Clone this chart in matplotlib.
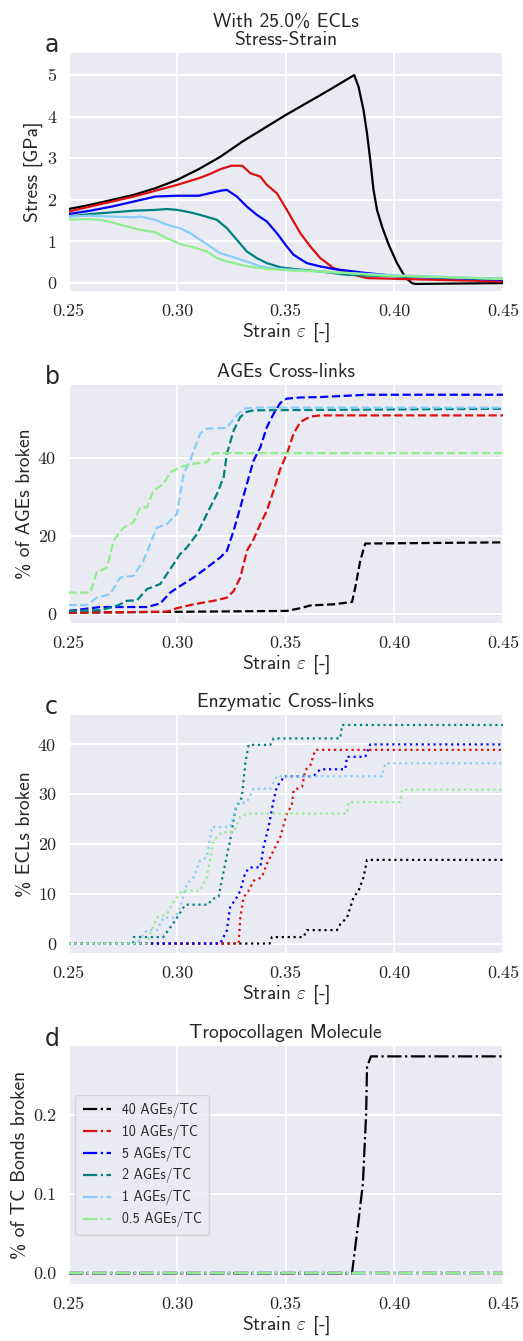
import matplotlib
matplotlib.use("Agg")
import matplotlib.pyplot as plt
import seaborn as sns

sns.set_style("darkgrid")
plt.rcParams["font.family"] = ["cmss10", "DejaVu Sans"]
plt.rcParams["mathtext.fontset"] = "cm"
plt.rcParams["axes.unicode_minus"] = False

# ---------------------------------------------------------------- data
labels = ["40 AGEs/TC", "10 AGEs/TC", "5 AGEs/TC", "2 AGEs/TC", "1 AGEs/TC", "0.5 AGEs/TC"]
colors = ["black", "#dd1010", "blue", "teal", "lightskyblue", "lightgreen"]

xticks = [0.25, 0.30, 0.35, 0.40, 0.45]
xtick_labels = ["0.25", "0.30", "0.35", "0.40", "0.45"]

# (a) stress-strain
a_x_40 = [0.25, 0.26, 0.27, 0.28, 0.29, 0.30, 0.31, 0.32, 0.33, 0.34, 0.35, 0.36, 0.37, 0.3815,
          0.3835, 0.3858, 0.3874, 0.3889, 0.3904, 0.3920, 0.3943, 0.3974, 0.4012, 0.4050, 0.4081, 0.4096, 0.45]
a_y_40 = [1.78, 1.88, 2.0, 2.12, 2.28, 2.48, 2.74, 3.04, 3.4, 3.72, 4.04, 4.34, 4.64, 5.0,
          4.72, 4.16, 3.6, 2.96, 2.24, 1.76, 1.36, 0.92, 0.48, 0.14, 0.0, -0.02, 0.0]
a_x_10 = [0.25, 0.26, 0.27, 0.28, 0.29, 0.30, 0.31, 0.315, 0.32, 0.325, 0.33, 0.3337, 0.3383, 0.3413,
          0.3459, 0.3505, 0.3567, 0.3613, 0.3659, 0.3720, 0.3797, 0.3874, 0.4027, 0.45]
a_y_10 = [1.72, 1.84, 1.96, 2.08, 2.22, 2.36, 2.52, 2.62, 2.74, 2.82, 2.82, 2.64, 2.56, 2.36,
          2.16, 1.76, 1.2, 0.88, 0.6, 0.36, 0.22, 0.12, 0.1, 0.04]
a_x_5 = [0.25, 0.26, 0.27, 0.28, 0.29, 0.30, 0.31, 0.32, 0.3229, 0.3275, 0.3321, 0.3367, 0.3413,
         0.3459, 0.3505, 0.3536, 0.3597, 0.3659, 0.3720, 0.3782, 0.3874, 0.4027, 0.45]
a_y_5 = [1.66, 1.74, 1.84, 1.96, 2.08, 2.10, 2.10, 2.22, 2.24, 2.08, 1.84, 1.64, 1.48,
         1.2, 0.88, 0.68, 0.48, 0.4, 0.34, 0.30, 0.24, 0.16, 0.08]
a_x_2 = [0.25, 0.26, 0.27, 0.28, 0.29, 0.2953, 0.30, 0.3060, 0.3106, 0.3183, 0.3229, 0.3275, 0.3321,
         0.3367, 0.3413, 0.3475, 0.3536, 0.3659, 0.3782, 0.3874, 0.45]
a_y_2 = [1.6, 1.66, 1.7, 1.74, 1.76, 1.78, 1.76, 1.7, 1.64, 1.52, 1.32, 1.04, 0.76,
         0.6, 0.48, 0.38, 0.34, 0.28, 0.2, 0.18, 0.1]
a_x_1 = [0.25, 0.26, 0.27, 0.28, 0.283, 0.29, 0.2953, 0.3014, 0.3060, 0.3106, 0.3152, 0.3198, 0.3260,
         0.3321, 0.3383, 0.3444, 0.3536, 0.3659, 0.3797, 0.3950, 0.45]
a_y_1 = [1.6, 1.62, 1.6, 1.58, 1.6, 1.52, 1.4, 1.32, 1.2, 1.04, 0.88, 0.72, 0.62,
         0.52, 0.4, 0.35, 0.32, 0.28, 0.24, 0.2, 0.1]
a_x_05 = [0.25, 0.2584, 0.2646, 0.27, 0.2769, 0.283, 0.29, 0.2953, 0.3014, 0.3076, 0.3137, 0.3183,
          0.3229, 0.3291, 0.3352, 0.3413, 0.3536, 0.3659, 0.3782, 0.3950, 0.45]
a_y_05 = [1.52, 1.54, 1.52, 1.46, 1.36, 1.28, 1.22, 1.08, 0.94, 0.86, 0.76, 0.6,
          0.52, 0.44, 0.38, 0.34, 0.30, 0.28, 0.24, 0.18, 0.1]

# (b) % of AGEs broken
b_x_40 = [0.25, 0.3505, 0.3567, 0.3613, 0.3720, 0.3805, 0.3820, 0.3843, 0.3866, 0.45]
b_y_40 = [0.25, 0.7, 1.4, 2.1, 2.4, 3.0, 6.7, 13.6, 18.0, 18.3]
b_x_10 = [0.25, 0.2953, 0.2999, 0.3076, 0.3168, 0.3229, 0.3260, 0.3291, 0.3321, 0.3352, 0.3383,
          0.3413, 0.3444, 0.3475, 0.3505, 0.3536, 0.3567, 0.3613, 0.3659, 0.45]
b_y_10 = [0.25, 0.5, 1.4, 2.4, 3.3, 4.1, 5.8, 9.3, 16.1, 19.1, 23.0,
          26.4, 31.6, 37.2, 41.0, 46.2, 49.2, 50.6, 50.9, 50.9]
b_x_5 = [0.25, 0.2646, 0.2861, 0.2922, 0.2968, 0.3014, 0.3076, 0.3137, 0.3198, 0.3229, 0.3260, 0.3291,
         0.3321, 0.3352, 0.3383, 0.3413, 0.3444, 0.3475, 0.3505, 0.3567, 0.3659, 0.3766, 0.3874, 0.45]
b_y_5 = [0.7, 1.7, 1.7, 2.6, 5.4, 7.1, 9.3, 11.8, 14.4, 16.1, 21.3, 27.3,
         33.3, 39.3, 42.7, 47.9, 51.3, 54.1, 55.2, 55.5, 55.6, 55.9, 56.2, 56.2]
b_x_2 = [0.25, 0.2646, 0.2723, 0.2769, 0.2815, 0.2861, 0.2922, 0.2968, 0.3014, 0.3045, 0.3091,
         0.3137, 0.3183, 0.3214, 0.3229, 0.3260, 0.3291, 0.3321, 0.3352, 0.45]
b_y_2 = [0.7, 0.9, 2.0, 3.3, 3.4, 6.3, 7.6, 11.4, 15.3, 17.0, 20.4,
         25.6, 30.7, 35.0, 41.0, 47.0, 50.5, 51.8, 52.2, 52.6]
b_x_1 = [0.25, 0.2584, 0.2630, 0.2692, 0.2738, 0.2799, 0.2845, 0.2907, 0.2953, 0.2999, 0.3030,
         0.3060, 0.3106, 0.3137, 0.3229, 0.3260, 0.3306, 0.3352, 0.45]
b_y_1 = [2.2, 2.2, 4.1, 5.0, 9.3, 9.7, 13.6, 22.1, 23.0, 25.6, 35.9,
         39.3, 46.2, 47.5, 47.7, 50.0, 52.6, 52.9, 52.9]
b_x_05 = [0.25, 0.2600, 0.2630, 0.2677, 0.2707, 0.2753, 0.2799, 0.2830, 0.2861, 0.2891, 0.2937,
          0.2968, 0.3014, 0.3076, 0.3137, 0.3168, 0.45]
b_y_05 = [5.4, 5.4, 10.6, 11.8, 18.7, 22.1, 23.4, 27.3, 27.3, 31.6, 33.3,
          36.3, 37.6, 38.5, 38.9, 41.2, 41.2]

# (c) % of ECLs broken
c_x_40 = [0.25, 0.3426, 0.3436, 0.3582, 0.3597, 0.3736, 0.3751, 0.3782, 0.3812, 0.3835, 0.3858, 0.3874, 0.45]
c_y_40 = [0, 0, 1.3, 1.3, 2.7, 2.7, 3.9, 5.2, 9.3, 10.6, 13.3, 16.8, 16.8]
c_x_10 = [0.25, 0.3283, 0.3291, 0.3306, 0.3329, 0.3352, 0.3390, 0.3413, 0.3444, 0.3475, 0.3505,
          0.3528, 0.3536, 0.3575, 0.3590, 0.3613, 0.3636, 0.45]
c_y_10 = [0, 0, 5.2, 9.3, 10.6, 12.6, 13.3, 16.0, 18.7, 21.4, 26.1,
          27.8, 30.8, 31.5, 34.8, 35.8, 38.9, 38.9]
c_x_5 = [0.25, 0.3198, 0.3229, 0.3244, 0.3275, 0.3291, 0.3314, 0.3337, 0.3383, 0.3398, 0.3421,
         0.3444, 0.3459, 0.3482, 0.3490, 0.3628, 0.3659, 0.3774, 0.3782, 0.3866, 0.3889, 0.45]
c_y_5 = [0, 0, 2.6, 7.3, 9.3, 10.6, 14.3, 15.3, 15.3, 19.4, 23.4,
         28.8, 31.5, 32.8, 33.6, 33.6, 35.0, 35.0, 37.5, 37.5, 40.0, 40.0]
c_x_2 = [0.25, 0.2798, 0.2800, 0.2936, 0.2991, 0.3037, 0.3143, 0.3160, 0.3191, 0.3212, 0.3244,
         0.3267, 0.3298, 0.3314, 0.3329, 0.3429, 0.3444, 0.3751, 0.3759, 0.45]
c_y_2 = [0, 0, 1.3, 1.3, 4.6, 7.8, 7.8, 8.9, 9.4, 14.1, 20.7,
         26.8, 29.4, 36.2, 39.9, 39.9, 41.2, 41.2, 43.9, 43.9]
c_x_1 = [0.25, 0.2815, 0.2830, 0.2861, 0.2907, 0.2937, 0.2991, 0.3014, 0.3045, 0.3076, 0.3106,
         0.3137, 0.3160, 0.3244, 0.3275, 0.3321, 0.3352, 0.3429, 0.3459, 0.3943, 0.3958, 0.45]
c_y_1 = [0, 0, 0.9, 2.7, 2.7, 5.2, 5.2, 7.3, 12.0, 13.3, 16.7,
         17.3, 23.4, 23.4, 28.1, 28.4, 31.1, 31.1, 33.6, 33.6, 36.2, 36.2]
c_x_05 = [0.25, 0.2861, 0.2884, 0.2907, 0.2953, 0.2983, 0.3022, 0.3106, 0.3137, 0.3168, 0.3206,
          0.3260, 0.3291, 0.3321, 0.3782, 0.3789, 0.4027, 0.4035, 0.45]
c_y_05 = [0, 0, 2.9, 5.2, 5.9, 8.3, 10.6, 10.6, 13.3, 20.7, 22.4,
          22.4, 25.4, 26.1, 26.1, 28.4, 28.4, 30.9, 30.9]

# (d) % of TC bonds broken
d_x_40 = [0.25, 0.3805, 0.3835, 0.3855, 0.3870, 0.3874, 0.3892, 0.45]
d_y_40 = [0, 0, 0.0665, 0.113, 0.201, 0.26, 0.2737, 0.2737]
d_x_other = [0.25, 0.45]
d_y_other = [0, 0]

stress = [(a_x_40, a_y_40), (a_x_10, a_y_10), (a_x_5, a_y_5),
          (a_x_2, a_y_2), (a_x_1, a_y_1), (a_x_05, a_y_05)]
ages = [(b_x_40, b_y_40), (b_x_10, b_y_10), (b_x_5, b_y_5),
        (b_x_2, b_y_2), (b_x_1, b_y_1), (b_x_05, b_y_05)]
ecls = [(c_x_40, c_y_40), (c_x_10, c_y_10), (c_x_5, c_y_5),
        (c_x_2, c_y_2), (c_x_1, c_y_1), (c_x_05, c_y_05)]
tc = [(d_x_40, d_y_40)] + [(d_x_other, d_y_other)] * 5

panels = [
    dict(series=stress, ls="-", title="With 25.0% ECLs\nStress-Strain", ylabel="Stress [GPa]",
         yticks=[0, 1, 2, 3, 4, 5], yticklabels=["0", "1", "2", "3", "4", "5"],
         ylim=(-0.19, 5.53), letter="a"),
    dict(series=ages, ls="--", title="AGEs Cross-links", ylabel="% of AGEs broken",
         yticks=[0, 20, 40], yticklabels=["0", "20", "40"], ylim=(-2.4, 58.7), letter="b"),
    dict(series=ecls, ls=":", title="Enzymatic Cross-links", ylabel="% ECLs broken",
         yticks=[0, 10, 20, 30, 40], yticklabels=["0", "10", "20", "30", "40"],
         ylim=(-1.9, 45.9), letter="c"),
    dict(series=tc, ls="-.", title="Tropocollagen Molecule", ylabel="% of TC Bonds broken",
         yticks=[0.0, 0.1, 0.2], yticklabels=["0.0", "0.1", "0.2"], ylim=(-0.0135, 0.2868),
         letter="d"),
]

# ---------------------------------------------------------------- figure
W, H = 523, 1341
fig = plt.figure(figsize=(W / 100, H / 100), dpi=100)

left_px, right_px = 68.5, 503
tops_px = [53, 385, 715, 1046]
height_px = 238

for p, top in zip(panels, tops_px):
    ax = fig.add_axes([left_px / W, 1 - (top + height_px) / H,
                       (right_px - left_px) / W, height_px / H])
    ax.set_facecolor("#EAEAF2")
    for (x, y), c, lab in zip(p["series"], colors, labels):
        ax.plot(x, y, color=c, ls=p["ls"], lw=1.6, label=lab)
    ax.set_xlim(0.25, 0.45)
    ax.set_ylim(*p["ylim"])
    ax.set_xticks(xticks, labels=xtick_labels)
    ax.set_yticks(p["yticks"], labels=p["yticklabels"])
    ax.tick_params(length=0, pad=9, labelsize=13, labelfontfamily="cmr10")
    ax.grid(True, color="white", lw=1.4)
    ax.set_axisbelow(True)
    for s in ax.spines.values():
        s.set_visible(False)
    ax.set_title(p["title"], fontsize=14, pad=6, linespacing=1.0)
    ax.set_xlabel(r"Strain $\varepsilon$ [-]", fontsize=14, labelpad=1)
    ax.set_ylabel(p["ylabel"], fontsize=14, labelpad=3)
    fig.text(45 / W, 1 - (top - 0.5) / H, p["letter"], fontsize=17,
             family="DejaVu Sans", ha="left", va="baseline")
    if p["letter"] == "d":
        leg = ax.legend(loc="center left", fontsize=10, frameon=True,
                        facecolor="#EAEAF2", edgecolor="#cccccc", framealpha=0.8,
                        handlelength=2.0, borderpad=0.55, labelspacing=0.5)

fig.savefig("out.png", dpi=100)
